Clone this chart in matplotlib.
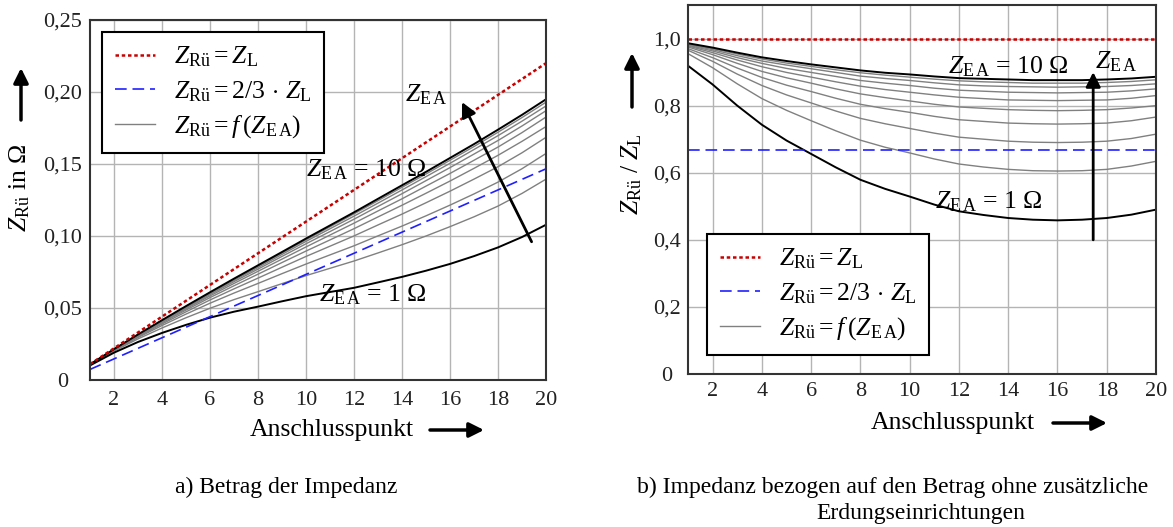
import numpy as np
import matplotlib
matplotlib.use("Agg")
import matplotlib.pyplot as plt
from matplotlib.lines import Line2D
from matplotlib.patches import FancyArrowPatch
from matplotlib.ticker import FixedLocator, FixedFormatter

plt.rcParams.update({
    "font.family": ["Liberation Serif", "DejaVu Serif"],
    "mathtext.fontset": "custom",
    "mathtext.rm": "Liberation Serif",
    "mathtext.it": "Liberation Serif:italic",
    "mathtext.bf": "Liberation Serif:bold",
})

# Anschlusspunkte entlang der Leitung
anschlusspunkt = [1, 2, 3, 4, 5, 6, 7, 8, 9, 10, 11, 12, 13, 14, 15, 16, 17, 18, 19, 20]

# Leitungsimpedanz Z_L in Ohm am jeweiligen Anschlusspunkt
z_l = [0.011, 0.022, 0.033, 0.044, 0.055, 0.066, 0.077, 0.088, 0.099, 0.110,
       0.121, 0.132, 0.143, 0.154, 0.165, 0.176, 0.187, 0.198, 0.209, 0.220]

# Verhaeltnis Z_Rue / Z_L fuer Erdungsimpedanzen Z_EA = 1 ... 10 Ohm
zea_01 = [0.919, 0.863, 0.800, 0.743, 0.696, 0.656, 0.616, 0.579, 0.552, 0.529,
          0.505, 0.485, 0.474, 0.465, 0.460, 0.458, 0.460, 0.465, 0.475, 0.490]
zea_02 = [0.955, 0.913, 0.865, 0.821, 0.786, 0.755, 0.725, 0.697, 0.676, 0.659,
          0.641, 0.626, 0.617, 0.610, 0.606, 0.605, 0.606, 0.610, 0.620, 0.634]
zea_03 = [0.965, 0.932, 0.894, 0.860, 0.832, 0.808, 0.784, 0.762, 0.746, 0.732,
          0.718, 0.706, 0.700, 0.694, 0.691, 0.690, 0.691, 0.694, 0.702, 0.715]
zea_04 = [0.970, 0.943, 0.912, 0.884, 0.861, 0.842, 0.822, 0.804, 0.791, 0.780,
          0.768, 0.758, 0.753, 0.748, 0.746, 0.745, 0.746, 0.748, 0.755, 0.766]
zea_05 = [0.975, 0.952, 0.926, 0.902, 0.883, 0.867, 0.850, 0.835, 0.824, 0.814,
          0.804, 0.796, 0.792, 0.788, 0.786, 0.785, 0.786, 0.788, 0.793, 0.800]
zea_06 = [0.978, 0.958, 0.936, 0.916, 0.899, 0.885, 0.871, 0.858, 0.848, 0.840,
          0.832, 0.825, 0.821, 0.817, 0.816, 0.815, 0.816, 0.817, 0.822, 0.830]
zea_07 = [0.980, 0.963, 0.943, 0.926, 0.911, 0.899, 0.887, 0.875, 0.867, 0.860,
          0.852, 0.846, 0.843, 0.840, 0.839, 0.838, 0.839, 0.840, 0.844, 0.850]
zea_08 = [0.982, 0.967, 0.949, 0.933, 0.921, 0.910, 0.899, 0.888, 0.881, 0.875,
          0.868, 0.862, 0.859, 0.857, 0.856, 0.855, 0.856, 0.857, 0.860, 0.865]
zea_09 = [0.984, 0.970, 0.954, 0.939, 0.927, 0.917, 0.907, 0.898, 0.891, 0.885,
          0.879, 0.874, 0.871, 0.869, 0.867, 0.867, 0.867, 0.869, 0.872, 0.877]
zea_10 = [0.986, 0.973, 0.958, 0.944, 0.933, 0.923, 0.914, 0.905, 0.898, 0.893,
          0.887, 0.882, 0.880, 0.878, 0.876, 0.876, 0.876, 0.878, 0.881, 0.886]

x_ticks = [2, 4, 6, 8, 10, 12, 14, 16, 18, 20]
y1_ticks = [0, 0.05, 0.10, 0.15, 0.20, 0.25]
y1_labels = ["0", "0,05", "0,10", "0,15", "0,20", "0,25"]
y2_ticks = [0, 0.2, 0.4, 0.6, 0.8, 1.0]
y2_labels = ["0", "0,2", "0,4", "0,6", "0,8", "1,0"]

W, H = 1173, 527
fig = plt.figure(figsize=(W / 100, H / 100), dpi=100)


def fx(px):
    return px / W


def fy(py):
    return 1 - py / H


ax1 = fig.add_axes([fx(90), fy(380), (546 - 90) / W, (380 - 20) / H])
ax2 = fig.add_axes([fx(688), fy(374), (1156 - 688) / W, (374 - 5) / H])

x = np.array(anschlusspunkt)
zl = np.array(z_l)
ratios = [np.array(r) for r in (zea_01, zea_02, zea_03, zea_04, zea_05,
                                zea_06, zea_07, zea_08, zea_09, zea_10)]

RED = "#c80000"
BLUE = "#2020ff"
GRAY = "#808080"
dotted = (0, (1.4, 1.1))
dashed = (0, (7, 3.5))

# a) absolute impedance
for i, r in enumerate(ratios):
    edge = i in (0, len(ratios) - 1)
    ax1.plot(x, r * zl, color="black" if edge else GRAY,
             lw=1.4 if edge else 1.0, zorder=3 if edge else 2)
ax1.plot(x, zl, color=RED, lw=1.8, ls=dotted, zorder=4)
ax1.plot(x, zl * 2 / 3, color=BLUE, lw=1.2, ls=dashed, zorder=4)

# b) impedance relative to Z_L
for i, r in enumerate(ratios):
    edge = i in (0, len(ratios) - 1)
    ax2.plot(x, r, color="black" if edge else GRAY,
             lw=1.4 if edge else 1.0, zorder=3 if edge else 2)
ax2.plot(x, zl / zl, color=RED, lw=1.8, ls=dotted, zorder=4)
ax2.plot(x, zl / zl * 2 / 3, color=BLUE, lw=1.2, ls=dashed, zorder=4)

for ax, yt, yl, ylim, ypad in ((ax1, y1_ticks, y1_labels, (0, 0.25), 19.5),
                               (ax2, y2_ticks, y2_labels, (0, 1.1), 15)):
    ax.set_xlim(1, 20)
    ax.set_ylim(*ylim)
    ax.xaxis.set_major_locator(FixedLocator(x_ticks))
    ax.yaxis.set_major_locator(FixedLocator(yt))
    ax.yaxis.set_major_formatter(FixedFormatter(yl))
    ax.grid(True, color="#b4b4b4", lw=1.0, zorder=0)
    ax.set_axisbelow(True)
    ax.tick_params(length=0, labelsize=16, colors="#222222")
    ax.tick_params(axis="y", pad=ypad)
    for lab in ax.get_yticklabels():
        lab.set_horizontalalignment("center")
    for s in ax.spines.values():
        s.set_color("#333333")
        s.set_linewidth(1.5)
        s.set_zorder(5)
ax1.tick_params(axis="x", pad=8)
ax2.tick_params(axis="x", pad=6)

leg_labels = [r"$Z_{\mathrm{Rü}} = Z_{\mathrm{L}}$",
              r"$Z_{\mathrm{Rü}} = 2/3\,\cdot\,Z_{\mathrm{L}}$",
              r"$Z_{\mathrm{Rü}} = f\,(Z_{\mathrm{E\,A}})$"]
leg_handles = [Line2D([], [], color=RED, lw=1.8, ls=dotted),
               Line2D([], [], color=BLUE, lw=1.2, ls=dashed),
               Line2D([], [], color=GRAY, lw=1.0)]

for ax, (lx, ly) in ((ax1, (102, 32)), (ax2, (707, 234))):
    leg = ax.legend(leg_handles, leg_labels, loc="upper left",
                    bbox_to_anchor=(fx(lx), fy(ly)),
                    bbox_transform=fig.transFigure, borderaxespad=0,
                    fontsize=18.5, frameon=True, fancybox=False, framealpha=1,
                    handlelength=1.55, handletextpad=0.75, labelspacing=0.38,
                    borderpad=0.5)
    leg.get_frame().set_edgecolor("black")
    leg.get_frame().set_linewidth(1.5)
    leg.set_zorder(10)

# curve annotations
ax1.text(12.5, 0.146, r"$Z_{\mathrm{E\,A}}$ = 10 Ω", fontsize=18.5,
         ha="center", va="center", zorder=6)
ax1.text(12.8, 0.059, r"$Z_{\mathrm{E\,A}}$ = 1 Ω", fontsize=18.5,
         ha="center", va="center", zorder=6)
ax1.text(15.0, 0.198, r"$Z_{\mathrm{E\,A}}$", fontsize=18.5,
         ha="center", va="center", zorder=6)
ax1.annotate("", xy=(16.5, 0.193), xytext=(19.4, 0.096),
             arrowprops=dict(arrowstyle="-|>", color="black", lw=2,
                             mutation_scale=22, shrinkA=0, shrinkB=0),
             zorder=6)

ax2.text(14.0, 0.916, r"$Z_{\mathrm{E\,A}}$ = 10 Ω", fontsize=18.5,
         ha="center", va="center", zorder=6)
ax2.text(13.2, 0.513, r"$Z_{\mathrm{E\,A}}$ = 1 Ω", fontsize=18.5,
         ha="center", va="center", zorder=6)
ax2.text(18.4, 0.93, r"$Z_{\mathrm{E\,A}}$", fontsize=18.5,
         ha="center", va="center", zorder=6)
ax2.annotate("", xy=(17.45, 0.90), xytext=(17.45, 0.40),
             arrowprops=dict(arrowstyle="-|>", color="black", lw=2,
                             mutation_scale=22, shrinkA=0, shrinkB=0),
             zorder=6)

# axis titles with direction arrows
fig.text(fx(20), fy(188), r"$Z_{\mathrm{Rü}}$ in Ω", rotation=90,
         fontsize=18.5, ha="center", va="center")
fig.text(fx(632), fy(174), r"$Z_{\mathrm{Rü}}\ /\ Z_{\mathrm{L}}$",
         rotation=90, fontsize=18.5, ha="center", va="center")
fig.text(fx(332), fy(430), "Anschlusspunkt", fontsize=18.5,
         ha="center", va="center")
fig.text(fx(953), fy(423), "Anschlusspunkt", fontsize=18.5,
         ha="center", va="center")

arrow_kw = dict(arrowstyle="-|>", color="black", lw=2.5,
                mutation_scale=22, shrinkA=0, shrinkB=0)
for (x0, y0), (x1, y1) in (((21, 120), (21, 68)), ((632, 107), (632, 53)),
                           ((430, 430), (484, 430)),
                           ((1053, 423), (1107, 423))):
    fig.add_artist(FancyArrowPatch(
        (fx(x0), fy(y0)), (fx(x1), fy(y1)), transform=fig.transFigure,
        **arrow_kw))

# sub-figure captions
fig.text(fx(286), fy(487), "a) Betrag der Impedanz", fontsize=17,
         ha="center", va="center")
fig.text(fx(893), fy(487),
         "b) Impedanz bezogen auf den Betrag ohne zusätzliche",
         fontsize=17, ha="center", va="center")
fig.text(fx(921), fy(513), "Erdungseinrichtungen", fontsize=17,
         ha="center", va="center")

fig.savefig("out.png", dpi=100)
